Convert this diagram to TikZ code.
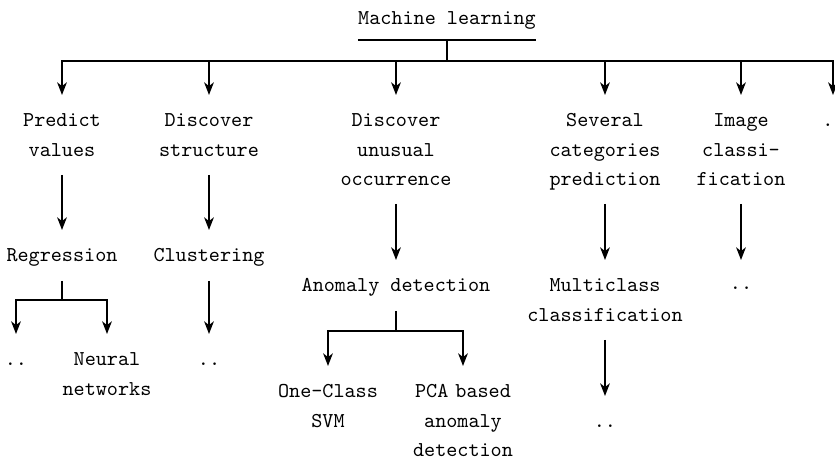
\documentclass[tikz,border=0pt]{standalone}
\usetikzlibrary{arrows.meta,calc}
\newcommand\mlfixspace{\spaceskip=5.25pt\relax}
\begin{document}
\begin{tikzpicture}[x=0.473pt,y=-0.473pt,
  txt/.style={inner sep=0pt,anchor=base,
    font=\ttfamily\fontsize{10}{13.72}\selectfont\mlfixspace},
  lbl/.style={txt,text width=90pt,align=center},
  ln/.style={line width=0.8pt},
  arr/.style={line width=0.8pt,-{Stealth[length=6pt,width=4.6pt,inset=1.8pt]}}]
\useasboundingbox (0,0) rectangle (835,461);
% nodes
\node[txt] (ml)  at (447,25)  {Machine learning};
\node[lbl] (pv)  at (62,127)  {Predict\\values};
\node[lbl] (ds)  at (209,127) {Discover\\structure};
\node[lbl] (du)  at (396,127) {Discover\\unusual\\occurrence};
\node[lbl] (sc)  at (605,127) {Several\\categories\\prediction};
\node[lbl] (ic)  at (741,127) {Image\\classi-\\fication};
\node[txt] (dt)  at (828,127) {.};
\node[txt] (reg) at (62,262)  {Regression};
\node[txt] (clu) at (209,262) {Clustering};
\node[txt] (ad)  at (396,292) {Anomaly detection};
\node[lbl] (mc)  at (605,292) {Multiclass\\classification};
\node[txt] (icd) at (741,290) {..};
\node[txt] (r1)  at (16,366)  {..};
\node[lbl] (nn)  at (107,366) {Neural\\networks};
\node[txt] (cd)  at (209,366) {..};
\node[lbl] (oc)  at (328,398) {One-Class\\SVM};
\node[lbl] (pca) at (463,398) {PCA based\\anomaly\\detection};
\node[txt] (mcd) at (605,428) {..};
% root
\draw[ln] ($(ml.base west)+(0,15)$) -- ($(ml.base east)+(0,15)$);
\coordinate (mlj) at ($(ml.base)+(0,36)$);
\draw[ln] ($(ml.base)+(0,15)$) -- (mlj);
\foreach \c in {pv,ds,du,sc,ic}{
  \draw[arr] (mlj) -| ($(\c.base)+(0,-32)$);
}
\draw[arr] (mlj) -| ($(dt.base)+(5,-32)$);
% level 1 -> level 2
\draw[arr] ($(pv.base)+(0,48)$) -- ($(reg.base)+(0,-32)$);
\draw[arr] ($(ds.base)+(0,48)$) -- ($(clu.base)+(0,-32)$);
\draw[arr] ($(du.base)+(0,77)$) -- ($(ad.base)+(0,-32)$);
\draw[arr] ($(sc.base)+(0,77)$) -- ($(mc.base)+(0,-32)$);
\draw[arr] ($(ic.base)+(0,77)$) -- ($(icd.base)+(0,-30)$);
% regression split
\coordinate (regj) at ($(reg.base)+(0,38)$);
\draw[ln] ($(reg.base)+(0,19)$) -- (regj);
\draw[arr] (regj) -| ($(r1.base)+(0,-32)$);
\draw[arr] (regj) -| ($(nn.base)+(0,-32)$);
\draw[arr] ($(clu.base)+(0,19)$) -- ($(cd.base)+(0,-32)$);
% anomaly split
\coordinate (adj) at ($(ad.base)+(0,39)$);
\draw[ln] ($(ad.base)+(0,19)$) -- (adj);
\draw[arr] (adj) -| ($(oc.base)+(0,-32)$);
\draw[arr] (adj) -| ($(pca.base)+(0,-32)$);
% multiclass
\draw[arr] ($(mc.base)+(0,48)$) -- ($(mcd.base)+(0,-32)$);
\end{tikzpicture}
\end{document}
